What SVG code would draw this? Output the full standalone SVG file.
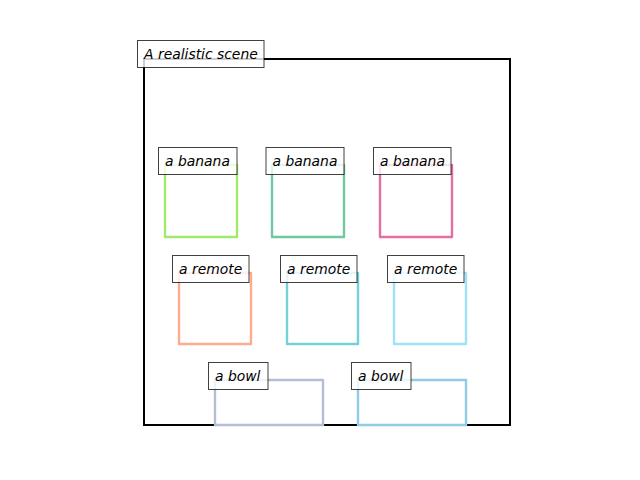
<svg xmlns="http://www.w3.org/2000/svg" width="640" height="480" viewBox="0 0 640 480">
<style>
.obj{fill:none;stroke-width:2.4;stroke-linejoin:round}
.lbl{fill:#ffffff;fill-opacity:0.8;stroke:#000;stroke-opacity:0.75;stroke-width:1}
.t{font-family:"DejaVu Sans",sans-serif;font-style:oblique;font-size:13.9px;fill:#000}
</style>
<rect x="0" y="0" width="640" height="480" fill="#fff"/>
<g id="scene">
<rect x="144" y="59" width="366" height="366" fill="none" stroke="#000" stroke-width="2"/>
<rect class="lbl" x="137.5" y="40.5" width="126.5" height="27"/>
<text class="t" x="144" y="58.5">A realistic scene</text>
</g>
<g id="banana1">
<rect class="obj" x="165" y="165" width="72" height="72" stroke="#a0eb6e"/>
<rect class="lbl" x="158.5" y="147.5" width="78.5" height="27"/>
<text class="t" x="165" y="165.5">a banana</text>
</g>
<g id="banana2">
<rect class="obj" x="272" y="165" width="72" height="72" stroke="#6ec8a0"/>
<rect class="lbl" x="266" y="147.5" width="78" height="27"/>
<text class="t" x="272.5" y="165.5">a banana</text>
</g>
<g id="banana3">
<rect class="obj" x="380" y="165" width="72" height="72" stroke="#e66ea5"/>
<rect class="lbl" x="373.5" y="147.5" width="77.5" height="27"/>
<text class="t" x="380" y="165.5">a banana</text>
</g>
<g id="remote1">
<rect class="obj" x="179" y="273" width="72" height="71" stroke="#ffaa91"/>
<rect class="lbl" x="172.5" y="255.5" width="76.5" height="27"/>
<text class="t" x="179" y="273.5">a remote</text>
</g>
<g id="remote2">
<rect class="obj" x="287" y="273" width="71" height="71" stroke="#73d2d7"/>
<rect class="lbl" x="280.5" y="255.5" width="76.5" height="27"/>
<text class="t" x="287" y="273.5">a remote</text>
</g>
<g id="remote3">
<rect class="obj" x="394" y="273" width="72" height="71" stroke="#a0e1fa"/>
<rect class="lbl" x="387.5" y="255.5" width="76.5" height="27"/>
<text class="t" x="394" y="273.5">a remote</text>
</g>
<g id="bowl1">
<rect class="obj" x="215" y="380" width="108" height="45" stroke="#b4bed2"/>
<rect class="lbl" x="208.5" y="362.5" width="59.5" height="27"/>
<text class="t" x="215" y="380.5">a bowl</text>
</g>
<g id="bowl2">
<rect class="obj" x="358" y="380" width="108" height="45" stroke="#91cbe6"/>
<rect class="lbl" x="351.5" y="362.5" width="59.5" height="27"/>
<text class="t" x="358" y="380.5">a bowl</text>
</g>
<g id="connectors"></g>
</svg>
